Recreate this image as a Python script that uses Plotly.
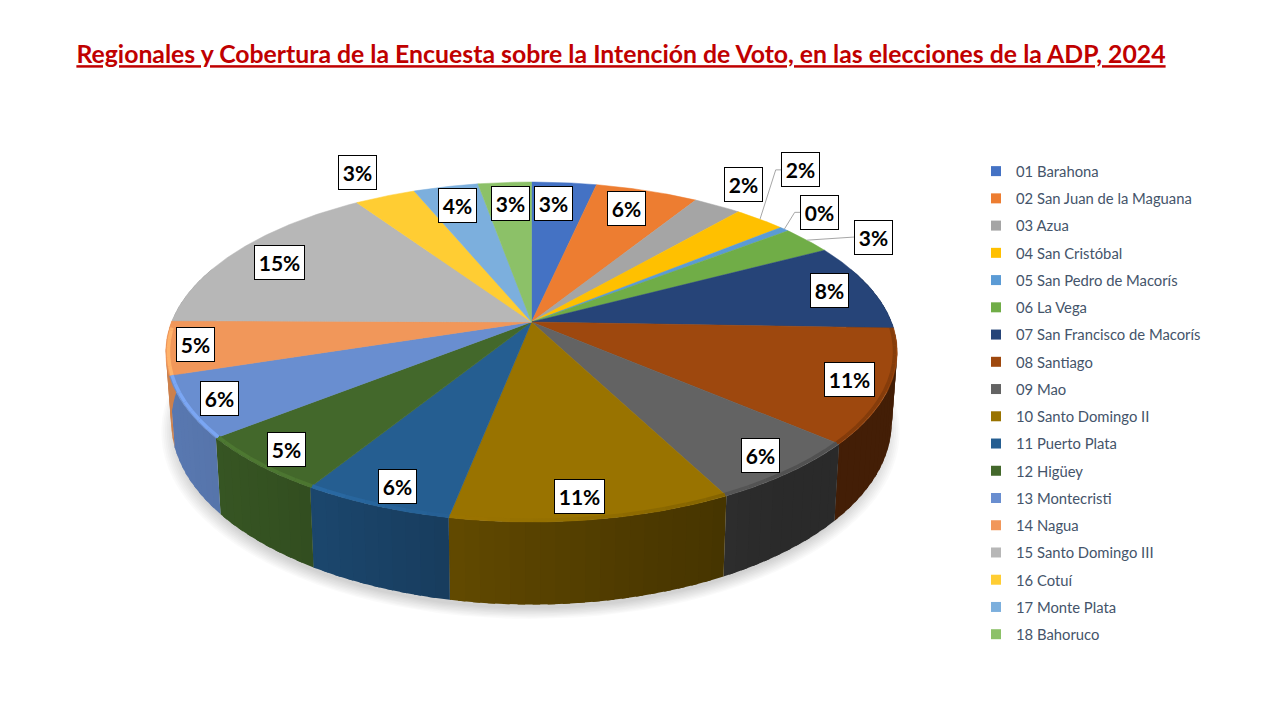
import numpy as np
import plotly.graph_objects as go

# Regional names and shares
regionales = ['01 Barahona', '02 San Juan de la Maguana', '03 Azua', '04 San Cristóbal',
              '05 San Pedro de Macorís', '06 La Vega', '07 San Francisco de Macorís',
              '08 Santiago', '09 Mao', '10 Santo Domingo II', '11 Puerto Plata', '12 Higüey',
              '13 Montecristi', '14 Nagua', '15 Santo Domingo III', '16 Cotuí',
              '17 Monte Plata', '18 Bahoruco']
valores = [3.4, 5.4, 2.5, 2.7, 0.5, 2.7, 8.4, 10.8, 6.1, 10.6, 5.7, 5.5, 5.8, 5.1, 15.5, 3.2, 3.4, 2.8]
etiquetas = ['3%', '6%', '2%', '2%', '0%', '3%', '8%', '11%', '6%', '11%', '6%', '5%',
             '6%', '5%', '15%', '3%', '4%', '3%']

colores = ['#4472C4', '#ED7D31', '#A5A5A5', '#FFC000', '#5B9BD5', '#70AD47', '#264478', '#9E480E',
           '#636363', '#997300', '#255E91', '#43682B', '#698ED0', '#F1975A', '#B7B7B7', '#FFCD33',
           '#7CAFDD', '#8CC168']

# Where each label sits relative to the middle of its slice
label_radio = [.83, .84, 1.2, 1.42, 1.18, 1.19, .88, .895, .9, .9, .905, .905, .91, .92, .84, 1.22, .845, .83]
label_giro = [-1.2, -1, -1, -6.5, -1, 4.5, 0, 0, 0, 0.9, -0.7, 0, 0, 0.5, -1, 0, 0, 0.4]
con_guia = [3, 4, 5]

# Perspective of the tilted disc (plot axes run in pixels)
CX, CY = 531.5, 322
RX, RY, K = 360, 164.7, 0.1765
DEPTH = 68
BOTTOM_SCALE = 0.985


def project(theta, r=1.0, bottom=False):
    # theta in degrees, clockwise from 12 o'clock
    t = np.radians(theta)
    f = 1 + K * r * np.cos(t)
    x = RX * r * np.sin(t) / f
    if bottom:
        return CX + BOTTOM_SCALE * x, CY - RY * r * np.cos(t) / f + DEPTH / f
    return CX + x, CY - RY * r * np.cos(t) / f


def shade(hex_color, factor):
    rgb = [int(hex_color[i:i + 2], 16) for i in (1, 3, 5)]
    return 'rgb(%d,%d,%d)' % tuple(min(255, int(c * factor)) for c in rgb)


def wall_factor(x):
    return np.interp(x, [170, 220, 380, 500, 650, 780, 900], [.85, .82, .7, .6, .5, .43, .43])


def bevel_factor(x):
    return np.interp(x, [170, 300, 450, 600, 800, 900], [1.18, 1.14, 1.02, .95, .82, .85])


total = sum(valores)
bordes = np.cumsum([0] + valores) / total * 360

fig = go.Figure()

# soft shadow under the disc
sombra = np.arange(0, 361, 3)
for i in range(9):
    sx, sy = project(sombra, bottom=True)
    esc = 0.985 + i * 0.005
    fig.add_trace(go.Scatter(x=CX + (sx - CX) * esc - 1, y=CY + 25 + (sy - CY - 25) * esc + 8, mode='lines', fill='toself',
                             fillcolor='rgba(0,0,0,0.02)', line=dict(width=0), hoverinfo='skip', showlegend=False))

# side wall, split in narrow bands for the gradient; bands overlap so no seams show
for i, color in enumerate(colores):
    a, b = max(bordes[i], 70), min(bordes[i + 1], 290)
    if a >= b:
        continue
    pasos = np.append(np.arange(a, b, 2), b)
    for t0, t1 in zip(pasos[:-1], pasos[1:]):
        arco = np.linspace(t0, min(t1 + 1, b), 4)
        x1, y1 = project(arco)
        x2, y2 = project(arco[::-1], bottom=True)
        c = shade(color, wall_factor(x1.mean()))
        fig.add_trace(go.Scatter(x=np.r_[x1, x2], y=np.r_[y1, y2], mode='lines', fill='toself', fillcolor=c,
                                 line=dict(width=0), hoverinfo='skip', showlegend=False))

# top face
for i, color in enumerate(colores):
    arco = np.linspace(bordes[i], bordes[i + 1], max(int(bordes[i + 1] - bordes[i]) * 2, 4))
    x, y = project(arco)
    fig.add_trace(go.Scatter(x=np.r_[CX, x, CX], y=np.r_[CY, y, CY], mode='lines', fill='toself', fillcolor=color,
                             line=dict(color=color, width=0.5), name=regionales[i], hoverinfo='name', showlegend=False))

# bevel along the front rim
for i, color in enumerate(colores):
    a, b = max(bordes[i], 92), min(bordes[i + 1], 268)
    if a >= b:
        continue
    pasos = np.append(np.arange(a, b, 3), b)
    for t0, t1 in zip(pasos[:-1], pasos[1:]):
        x, y = project(np.linspace(t0, t1, 3), r=0.993)
        fig.add_trace(go.Scatter(x=x, y=y, mode='lines', line=dict(color=shade(color, bevel_factor(x.mean())), width=3.5),
                                 hoverinfo='skip', showlegend=False))

# labels and their leader lines
annotations = []
for i, texto in enumerate(etiquetas):
    medio = (bordes[i] + bordes[i + 1]) / 2
    lx, ly = project(medio + label_giro[i], r=label_radio[i])
    ancho = 50 if len(texto) > 2 else 38
    if i in con_guia:
        rx, ry = project(medio)
        fin = lx - ancho / 2
        fig.add_trace(go.Scatter(x=[rx, fin - 6, fin], y=[ry, ly, ly], mode='lines', line=dict(color='#A6A6A6', width=1),
                                 hoverinfo='skip', showlegend=False))
    annotations.append(dict(x=lx, y=ly, xref='x', yref='y', text='<b>%s</b>' % texto, showarrow=False,
                            font=dict(family='Lato', size=21, color='black'), bgcolor='white',
                            bordercolor='black', borderwidth=1, borderpad=0, width=ancho - 1, height=33))

# legend entries, one group per trace so the gap between them can be set
for nombre, color in zip(regionales, colores):
    fig.add_trace(go.Scatter(x=[None], y=[None], mode='markers', name=nombre, legendgroup=nombre,
                             marker=dict(symbol='square', size=10, color=color)))

fig.update_layout(
    width=1280, height=720, autosize=False,
    margin=dict(l=0, r=0, t=0, b=0),
    paper_bgcolor='white', plot_bgcolor='white',
    title=dict(text='<b><u>Regionales y Cobertura de la Encuesta sobre la Intención de Voto, en las elecciones de la ADP, 2024</u></b>',
               x=621 / 1280, xanchor='center', y=1 - 54.5 / 720, yanchor='middle',
               font=dict(family='Lato', size=24.8, color='#C00000')),
    xaxis=dict(range=[0, 1280], visible=False, fixedrange=True),
    yaxis=dict(range=[720, 0], visible=False, fixedrange=True),
    legend=dict(x=976 / 1280, xanchor='left', y=1 - 155 / 720, yanchor='top', tracegroupgap=5,
                font=dict(family='Lato', size=14.8, color='#44546A'), bgcolor='rgba(0,0,0,0)', itemclick=False,
                itemdoubleclick=False),
    annotations=annotations,
)

fig.write_html("out.html", config=dict(displayModeBar=False), post_script="document.body.style.margin='0';")
